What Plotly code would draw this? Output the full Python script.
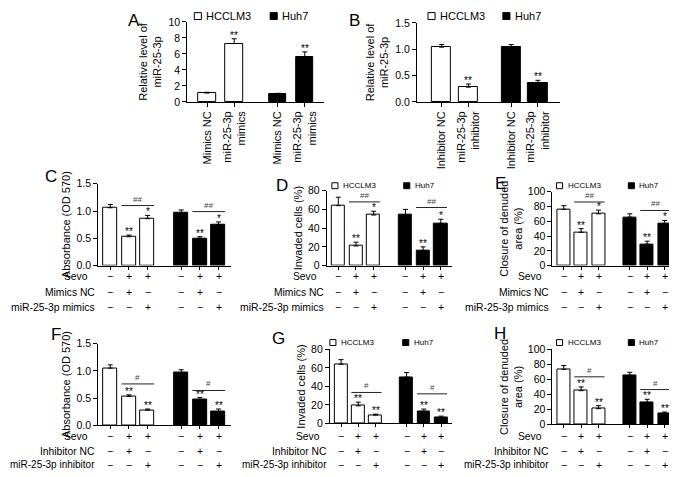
import plotly.graph_objects as go

W, H = 677, 477
OFF = 8            # page margin around the plot inside the browser window
S = W / (W + OFF)  # page fitted back into the window width
FONT = "Liberation Sans, Arial, sans-serif"

# ---------------- data ----------------
groups = ["HCCLM3", "Huh7"]

a_labels = ["Mimics NC", "miR-25-3p<br>mimics"]
a_hcc = [1.1, 7.3]
a_hcc_err = [0.1, 0.6]
a_huh = [1.0, 5.66]
a_huh_err = [0.07, 0.6]
a_stars = ["", "**"]

b_labels = ["Inhibitor NC", "miR-25-3p<br>inhibitor"]
b_hcc = [1.04, 0.28]
b_hcc_err = [0.05, 0.06]
b_huh = [1.04, 0.36]
b_huh_err = [0.05, 0.05]
b_stars = ["", "**"]

mimic_rows = ["Sevo", "Mimics NC", "miR-25-3p mimics"]
inhib_rows = ["Sevo", "Inhibitor NC", "miR-25-3p inhibitor"]
row_signs = [["−", "+", "+"], ["−", "+", "−"], ["−", "−", "+"]]

c_hcc = [1.06, 0.53, 0.86]
c_hcc_err = [0.06, 0.03, 0.06]
c_huh = [0.96, 0.50, 0.75]
c_huh_err = [0.06, 0.03, 0.05]
c_stars = ["", "**", "*"]
c_sig = [1.10, 0.99]

d_hcc = [64, 21, 54]
d_hcc_err = [9, 4, 4]
d_huh = [54, 16, 45]
d_huh_err = [6, 4, 4.5]
d_stars = ["", "**", "*"]
d_sig = [68, 62]

e_hcc = [76, 45, 70]
e_hcc_err = [5, 5, 5]
e_huh = [65.5, 29, 57]
e_huh_err = [4.5, 4, 4]
e_stars = ["", "**", "*"]
e_sig = [86, 74.5]

f_hcc = [1.05, 0.53, 0.28]
f_hcc_err = [0.06, 0.03, 0.02]
f_huh = [0.96, 0.47, 0.25]
f_huh_err = [0.06, 0.04, 0.05]
f_stars = ["", "**", "**"]
f_sig = [0.76, 0.64]

g_hcc = [64, 19, 9]
g_hcc_err = [5, 4, 1]
g_huh = [50, 12.5, 6.4]
g_huh_err = [5, 3, 1.5]
g_stars = ["", "**", "**"]
g_sig = [33.5, 32]

h_hcc = [73.5, 45, 21]
h_hcc_err = [5, 5, 4]
h_huh = [65.5, 29.5, 14.5]
h_huh_err = [4, 4, 2]
h_stars = ["", "**", "**"]
h_sig = [63.5, 46.5]

# ---------------- helpers ----------------
def px(x):
    return (x / S - OFF) / W

def py(y):
    return 1 - (y / S - OFF) / H

fig = go.Figure()
shapes = []
annots = []

def ann(**kw):
    base = dict(showarrow=False, font=dict(family=FONT, size=11, color="black"))
    if "font" in kw:
        f = dict(base["font"]); f.update(kw.pop("font")); base["font"] = f
    base.update(kw)
    annots.append(base)

def legend(x1, x2, y, size, fsize):
    for gi, (xx, name) in enumerate(zip([x1, x2], groups)):
        shapes.append(dict(type="rect", xref="paper", yref="paper",
                           x0=px(xx), x1=px(xx + size), y0=py(y + size / 2), y1=py(y - size / 2),
                           line=dict(color="black", width=1),
                           fillcolor="white" if gi == 0 else "black"))
        ann(x=px(xx + size + 3), y=py(y), xref="paper", yref="paper", text=name,
            xanchor="left", yanchor="middle", font=dict(size=fsize))

def panel(i, letter, letter_xy, dom_x, dom_y, yrange, dtick, tfmt, pos, xrange, bw,
          hcc, hcc_err, huh, huh_err, stars, ytitle, standoff,
          xlabels=None, sig=None, sigtxt=None, rows=None, row_y=None, row3_size=10.3):
    xa = "x" if i == 1 else f"x{i}"
    ya = "y" if i == 1 else f"y{i}"
    n = len(hcc)
    for gi, (vals, errs) in enumerate([(hcc, hcc_err), (huh, huh_err)]):
        fig.add_trace(go.Bar(
            x=pos[gi * n:(gi + 1) * n], y=vals, width=bw, name=groups[gi],
            marker=dict(color="white" if gi == 0 else "black", line=dict(color="black", width=1)),
            error_y=dict(type="data", symmetric=False, array=errs, arrayminus=[0] * n,
                         color="black", thickness=1, width=2.5),
            xaxis=xa, yaxis=ya, showlegend=False))
        for k in range(n):
            if stars[k]:
                ann(x=pos[gi * n + k], y=vals[k] + errs[k], xref=xa, yref=ya, text=stars[k],
                    xanchor="center", yanchor="bottom", yshift=-4,
                    font=dict(size=10, color="#000000"))
    xkw = dict(domain=[px(dom_x[0]), px(dom_x[1])], range=xrange, anchor=ya,
               showline=True, linecolor="black", linewidth=1, showgrid=False, zeroline=False,
               tickvals=pos, ticks="outside", ticklen=4, tickwidth=1, tickcolor="black",
               tickfont=dict(family=FONT, size=11, color="black"))
    if xlabels is not None:
        xkw.update(ticktext=xlabels + xlabels, tickangle=-90)
    else:
        xkw.update(ticktext=[""] * len(pos), ticklen=3)
    ykw = dict(domain=[py(dom_y[1]), py(dom_y[0])], range=yrange, anchor=xa, dtick=dtick,
               tickformat=tfmt, showline=True, linecolor="black", linewidth=1, showgrid=False,
               zeroline=False, ticks="outside", ticklen=4, tickwidth=1, tickcolor="black",
               tickfont=dict(family=FONT, size=10.5, color="black"),
               title=dict(text=ytitle, standoff=standoff,
                          font=dict(family=FONT, size=11, color="black")))
    fig.update_layout(**{("xaxis" if i == 1 else f"xaxis{i}"): xkw,
                         ("yaxis" if i == 1 else f"yaxis{i}"): ykw})
    ann(x=px(letter_xy[0]), y=py(letter_xy[1]), xref="paper", yref="paper", text=letter,
        xanchor="center", yanchor="middle", font=dict(size=17))
    if sig is not None:
        for gi in range(2):
            x0 = pos[gi * n + 1] - 0.4
            x1 = pos[gi * n + 2] + 0.35
            shapes.append(dict(type="line", xref=xa, yref=ya, x0=x0, x1=x1, y0=sig[gi], y1=sig[gi],
                               line=dict(color="#222", width=1)))
            ann(x=(x0 + x1) / 2, y=sig[gi], xref=xa, yref=ya, text=sigtxt, xanchor="center",
                yanchor="bottom", yshift=0, font=dict(size=8, color="#444"))
    if rows is not None:
        offs = [-8, -1, -1]
        fsz = [10.3, 10.3, row3_size]
        for r, (lab, signs) in enumerate(zip(rows, row_signs)):
            ann(x=px(dom_x[0] + offs[r]), y=py(row_y[r]), xref="paper", yref="paper", text=lab,
                xanchor="right", yanchor="middle", font=dict(size=fsz[r]))
            for gi in range(2):
                for k in range(n):
                    ann(x=pos[gi * n + k], y=py(row_y[r]), xref=xa, yref="paper", text=signs[k],
                        xanchor="center", yanchor="middle", font=dict(size=10.5))

pos_ab = [0, 1, 2.6, 3.6]
pos_c = [0, 1, 2, 3.8, 4.8, 5.8]
xr_c = [-0.65, 6.45]
rows_top = [274, 290, 305]
rows_bot = [436, 451, 465]

panel(1, "A", (132, 14), (185, 320), (16, 97), [0, 10], 2, "d", pos_ab, [-0.73, 4.3], 0.65,
      a_hcc, a_hcc_err, a_huh, a_huh_err, a_stars, "Relative level of<br>miR-25-3p", 4,
      xlabels=a_labels)
panel(2, "B", (350, 14), (412, 553), (17, 97), [0, 1.5], 0.5, ".1f", pos_ab, [-0.93, 4.41], 0.72,
      b_hcc, b_hcc_err, b_huh, b_huh_err, b_stars, "Relative level of<br>miR-25-3p", 4,
      xlabels=b_labels)
panel(3, "C", (50, 173), (97, 228), (180, 263), [0, 1.5], 0.5, ".1f", pos_c, xr_c, 0.75,
      c_hcc, c_hcc_err, c_huh, c_huh_err, c_stars, "Absorbance (OD 570)", 3,
      sig=c_sig, sigtxt="##", rows=mimic_rows, row_y=rows_top, row3_size=10.4)
panel(4, "D", (279, 182), (323, 447), (187, 263), [0, 80], 20, "d", pos_c, xr_c, 0.75,
      d_hcc, d_hcc_err, d_huh, d_huh_err, d_stars, "Invaded cells (%)", 3,
      sig=d_sig, sigtxt="##", rows=mimic_rows, row_y=rows_top, row3_size=10.4)
panel(5, "E", (495, 180), (546, 668), (188, 263), [0, 100], 20, "d", pos_c, xr_c, 0.75,
      e_hcc, e_hcc_err, e_huh, e_huh_err, e_stars, "Closure of denuded<br>area (%)", 2,
      sig=e_sig, sigtxt="##", rows=mimic_rows, row_y=rows_top, row3_size=10.4)
panel(6, "F", (55, 333), (97, 228), (342, 425), [0, 1.5], 0.5, ".1f", pos_c, xr_c, 0.75,
      f_hcc, f_hcc_err, f_huh, f_huh_err, f_stars, "Absorbance (OD 570)", 3,
      sig=f_sig, sigtxt="#", rows=inhib_rows, row_y=rows_bot, row3_size=10.0)
panel(7, "G", (275, 337), (326, 447), (348, 423), [0, 80], 20, "d", pos_c, xr_c, 0.75,
      g_hcc, g_hcc_err, g_huh, g_huh_err, g_stars, "Invaded cells (%)", 3,
      sig=g_sig, sigtxt="#", rows=inhib_rows, row_y=rows_bot, row3_size=10.0)
panel(8, "H", (494, 332), (546, 668), (348, 424), [0, 100], 20, "d", pos_c, xr_c, 0.75,
      h_hcc, h_hcc_err, h_huh, h_huh_err, h_stars, "Closure of denuded<br>area (%)", 2,
      sig=h_sig, sigtxt="#", rows=inhib_rows, row_y=rows_bot, row3_size=10.0)

legend(192, 267, 10, 7, 11)
legend(423, 497, 10, 7, 11)
legend(328, 399, 182, 6, 8)
legend(550, 621, 182, 6, 8)
legend(326, 398, 341, 6, 8)
legend(550, 621, 341, 6, 8)

fig.update_layout(width=W, height=H, margin=dict(l=0, r=0, t=0, b=0),
                  paper_bgcolor="white", plot_bgcolor="white",
                  shapes=shapes, annotations=annots, bargap=0,
                  font=dict(family=FONT, size=11, color="black"))
fig.write_html("out.html")
